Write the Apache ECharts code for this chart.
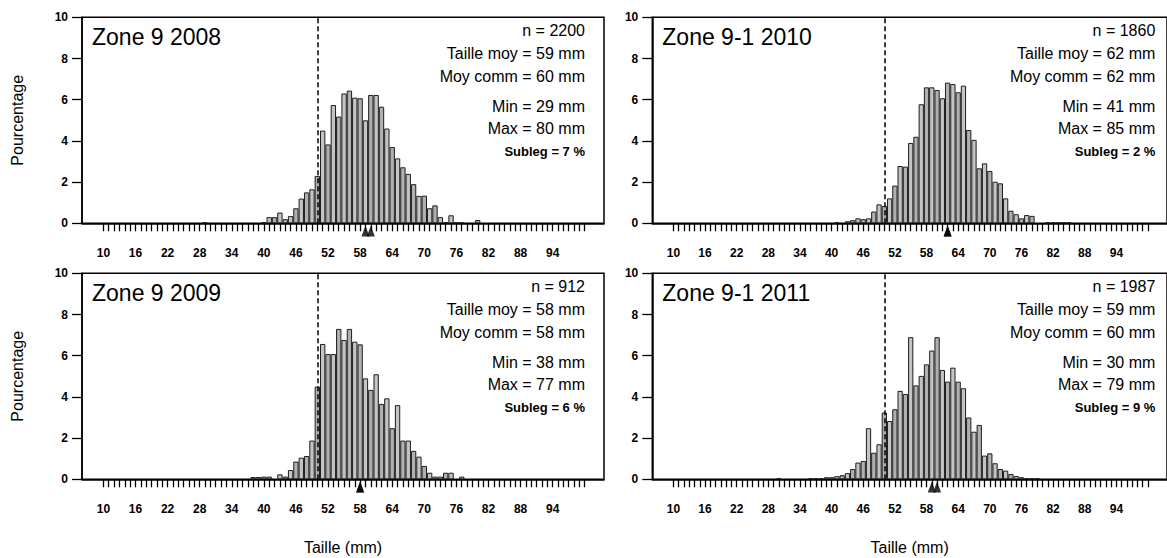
<!DOCTYPE html>
<html>
<head>
<meta charset="utf-8">
<script src="https://cdn.jsdelivr.net/npm/echarts@6/dist/echarts.min.js"></script>
<style>
  html, body { margin: 0; padding: 0; background: #ffffff; }
  #chart { width: 1167px; height: 558px; }
</style>
</head>
<body>
<div id="chart"></div>
<script>
// Size-frequency distributions (% of sample per 1 mm class)
const zoneTitles = ['Zone 9 2008', 'Zone 9-1 2010', 'Zone 9 2009', 'Zone 9-1 2011'];
const effectifs = [2200, 1860, 912, 1987];
const tailleMoy = [59, 62, 58, 59];
const moyComm = [60, 62, 58, 60];
const tailleMin = [29, 41, 38, 30];
const tailleMax = [80, 85, 77, 79];
const subleg = [7, 2, 6, 9];

// Percentages per size class, first value = class tailleMin
const pct2008 = [0.05, 0, 0, 0, 0, 0, 0, 0, 0, 0, 0, 0.05,
  0.3, 0.3, 0.52, 0.2, 0.35, 0.73, 1.2, 1.5, 1.65, 2.3,
  4.5, 3.83, 5.74, 5.18, 6.3, 6.44, 6.1, 6.07, 5.0, 6.23,
  6.23, 5.66, 4.6, 3.7, 3.15, 2.72, 2.4, 1.9, 1.33, 1.34,
  0.73, 0.87, 0.3, 0.05, 0.39, 0.05, 0.05, 0, 0, 0.16];
const pct2010 = [0.05, 0, 0.1, 0.15, 0.24, 0.2, 0.24, 0.57, 0.92, 0.84,
  1.21, 1.83, 2.78, 2.75, 3.9, 4.2, 5.78, 6.6, 6.6, 6.47,
  6.07, 6.83, 6.76, 6.36, 6.68, 4.53, 4.05, 2.67, 2.91, 2.54,
  2.02, 1.94, 1.21, 0.61, 0.44, 0.24, 0.4, 0.36, 0, 0,
  0.05, 0.05, 0.05, 0.05, 0.05];
const pct2009 = [0.11, 0.11, 0.13, 0.13, 0, 0.24, 0.13, 0.45, 0.86, 1.05,
  1.13, 1.88, 4.5, 6.57, 6.08, 6.08, 7.3, 6.76, 7.3, 6.68,
  6.55, 4.9, 4.34, 5.1, 3.66, 3.93, 2.48, 3.6, 1.88, 1.88,
  1.38, 1.1, 0.65, 0.32, 0.13, 0.13, 0.32, 0.32, 0, 0.13];
const pct2011 = [0.05, 0, 0, 0, 0, 0, 0.05, 0.05, 0.05, 0.1,
  0.1, 0.15, 0.2, 0.3, 0.5, 0.81, 0.89, 2.48, 1.29, 1.7,
  3.24, 2.83, 3.4, 4.29, 4.14, 6.9, 4.56, 5.02, 5.58, 6.25,
  6.9, 5.31, 4.74, 5.42, 4.74, 4.42, 3.0, 2.31, 2.64, 1.15,
  1.26, 0.78, 0.5, 0.42, 0.26, 0.16, 0.1, 0.05, 0.05, 0.05];
const pctSeries = [pct2008, pct2010, pct2009, pct2011];

// Axis ticks and labels
const xLabelValues = [10, 16, 22, 28, 34, 40, 46, 52, 58, 64, 70, 76, 82, 88, 94];
const xTickFirst = 10, xTickLast = 100;
const limiteLegale = 50;

const FONT = '"Liberation Sans", Arial, Helvetica, sans-serif';
const chart = echarts.init(document.getElementById('chart'), null, { renderer: 'svg' });

// Panel frames: [left, top] of each plot area
const frames = [[82, 17.3], [652.3, 17.3], [82, 273.3], [652.3, 273.3]];
const PW = 522, PH = 206;

const xTicks = [];
for (let v = xTickFirst; v <= xTickLast; v++) xTicks.push(v);

const grids = [], xAxes = [], yAxes = [], series = [], graphics = [];

frames.forEach(([L, T], i) => {
  grids.push({
    left: L, top: T, width: PW, height: PH,
    show: true, borderColor: '#000', borderWidth: 1.5, backgroundColor: 'transparent'
  });
  const bottomRow = i >= 2, leftCol = i % 2 === 0;
  xAxes.push({
    gridIndex: i, type: 'value', min: 6, max: 103.6,
    name: bottomRow ? 'Taille (mm)' : '',
    nameLocation: 'middle', nameGap: 60,
    nameTextStyle: { fontFamily: FONT, fontSize: 16, color: '#000' },
    axisLine: { show: true, onZero: false, lineStyle: { color: '#000', width: 1.5 } },
    axisTick: { show: true, inside: false, length: 8, customValues: xTicks,
      lineStyle: { color: '#000', width: 1.3 } },
    axisLabel: { show: true, customValues: xLabelValues, margin: 24,
      fontFamily: FONT, fontSize: 12, fontWeight: 'bold', color: '#000' },
    splitLine: { show: false }
  });
  yAxes.push({
    gridIndex: i, type: 'value', min: 0, max: 10, interval: 2,
    name: leftCol ? 'Pourcentage' : '',
    nameLocation: 'middle', nameGap: 57, nameRotate: 90,
    nameTextStyle: { fontFamily: FONT, fontSize: 16, color: '#000' },
    axisLine: { show: true, lineStyle: { color: '#000', width: 1.5 } },
    axisTick: { show: true, inside: false, length: 10, lineStyle: { color: '#000', width: 1.3 } },
    axisLabel: { show: true, margin: 14, fontFamily: FONT, fontSize: 12,
      fontWeight: 'bold', color: '#000' },
    splitLine: { show: false }
  });

  const first = tailleMin[i];
  const barData = pctSeries[i].map((p, k) => [first + k, p]).filter(d => d[1] > 0);
  series.push({
    type: 'bar', xAxisIndex: i, yAxisIndex: i,
    data: barData, barWidth: '100%', barGap: '-100%',
    itemStyle: {
      color: (p) => (p.data[0] % 2 === 0 ? '#b0b0b0' : '#c4c4c4'),
      borderColor: '#1e1e1e', borderWidth: 1
    },
    markLine: {
      silent: true, symbol: 'none', label: { show: false },
      lineStyle: { color: '#000', width: 1.5, type: [5, 3] },
      data: [{ xAxis: limiteLegale }]
    },
    animation: false
  });
  // Mean size and commercial mean markers under the axis
  series.push({
    type: 'scatter', xAxisIndex: i, yAxisIndex: i, clip: false,
    symbol: 'triangle', symbolSize: [8, 11],
    itemStyle: { color: '#000' },
    data: [[tailleMoy[i], -0.37], [moyComm[i], -0.37]],
    z: 5, animation: false
  });

  // Panel title
  graphics.push({
    type: 'text', left: L + 10, top: T + 8,
    style: { text: zoneTitles[i], font: '23px ' + FONT, fill: '#000' }
  });
  // Summary statistics, right aligned
  const xr = L + 503;
  const lines = [
    ['n = ' + effectifs[i], 12.7, '16px'],
    ['Taille moy = ' + tailleMoy[i] + ' mm', 36, '16px'],
    ['Moy comm = ' + moyComm[i] + ' mm', 58.7, '16px'],
    ['Min = ' + tailleMin[i] + ' mm', 88.7, '16px'],
    ['Max = ' + tailleMax[i] + ' mm', 111, '16px'],
    ['Subleg = ' + subleg[i] + ' %', 134.4, 'bold 13px']
  ];
  lines.forEach(([txt, dy, f]) => {
    graphics.push({
      type: 'text', x: xr, y: T + dy,
      style: { text: txt, font: f + ' ' + FONT, fill: '#000', align: 'right', verticalAlign: 'middle' }
    });
  });
});

chart.setOption({
  backgroundColor: '#ffffff',
  animation: false,
  grid: grids,
  xAxis: xAxes,
  yAxis: yAxes,
  series: series,
  graphic: graphics
});
</script>
</body>
</html>
